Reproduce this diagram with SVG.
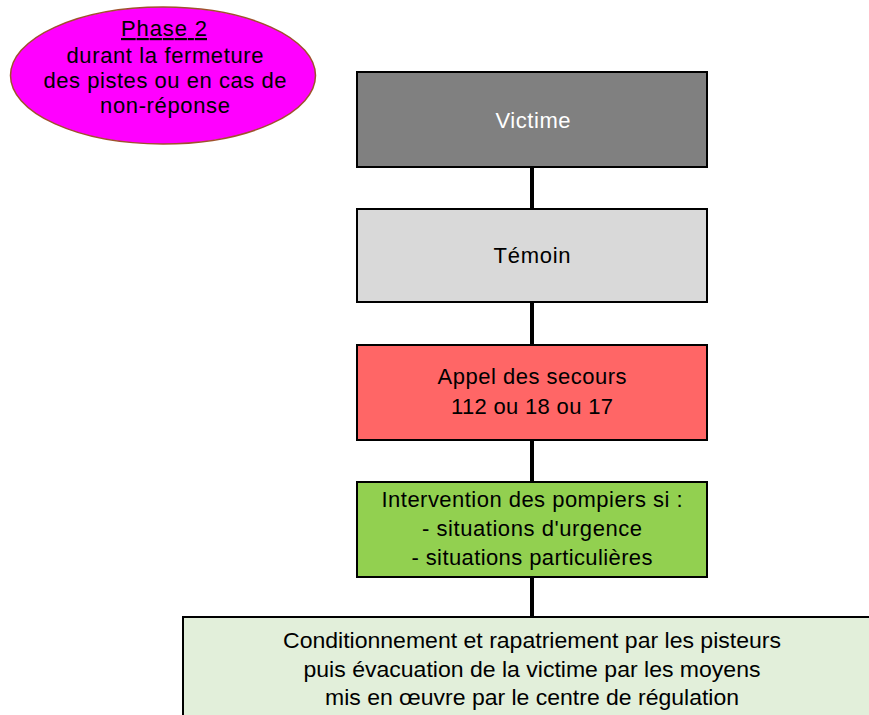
<svg xmlns="http://www.w3.org/2000/svg" width="869" height="715" viewBox="0 0 869 715">
<style>
text{font-family:"Liberation Sans",Arial,sans-serif;font-size:22px;text-anchor:middle;fill:#000}
.box{stroke:#000;stroke-width:2}
.conn{stroke:#000;stroke-width:4;fill:none}
</style>
<rect width="869" height="715" fill="#fff"/>
<g id="phase">
<ellipse cx="163" cy="75.5" rx="152.5" ry="68.5" fill="#ff00ff" stroke="#a0522d" stroke-width="1.5"/>
<text x="164" y="36" textLength="86" lengthAdjust="spacing" text-decoration="underline">Phase 2</text>
<text x="165" y="63" textLength="197" lengthAdjust="spacing">durant la fermeture</text>
<text x="165" y="88" textLength="243" lengthAdjust="spacing">des pistes ou en cas de</text>
<text x="165" y="113" textLength="130" lengthAdjust="spacing">non-réponse</text>
</g>
<g id="connectors">
<line class="conn" x1="532" y1="167" x2="532" y2="209"/>
<line class="conn" x1="532" y1="302" x2="532" y2="345"/>
<line class="conn" x1="532" y1="440" x2="532" y2="482"/>
<line class="conn" x1="532" y1="577" x2="532" y2="617"/>
</g>
<g id="victime">
<rect class="box" x="357" y="72" width="350" height="95" fill="#808080"/>
<text x="533" y="128" textLength="75" lengthAdjust="spacing" style="fill:#fff">Victime</text>
</g>
<g id="temoin">
<rect class="box" x="357" y="209" width="350" height="93" fill="#d9d9d9"/>
<text x="532" y="263" textLength="77" lengthAdjust="spacing">Témoin</text>
</g>
<g id="appel">
<rect class="box" x="357" y="345" width="350" height="95" fill="#ff6666"/>
<text x="532" y="384" textLength="189" lengthAdjust="spacing">Appel des secours</text>
<text x="532" y="414" textLength="162" lengthAdjust="spacing">112 ou 18 ou 17</text>
</g>
<g id="intervention">
<rect class="box" x="357" y="482" width="350" height="95" fill="#92d050"/>
<text x="532" y="507" textLength="301" lengthAdjust="spacing">Intervention des pompiers si :</text>
<text x="532" y="536" textLength="220" lengthAdjust="spacing">- situations d'urgence</text>
<text x="532" y="565" textLength="241" lengthAdjust="spacing">- situations particulières</text>
</g>
<g id="conditionnement">
<rect class="box" x="183" y="617" width="700" height="130" fill="#e2efda"/>
<text x="532" y="648" textLength="498" lengthAdjust="spacingAndGlyphs">Conditionnement et rapatriement par les pisteurs</text>
<text x="532" y="677" textLength="457" lengthAdjust="spacingAndGlyphs">puis évacuation de la victime par les moyens</text>
<text x="532" y="705" textLength="414" lengthAdjust="spacingAndGlyphs">mis en œuvre par le centre de régulation</text>
</g>
</svg>
